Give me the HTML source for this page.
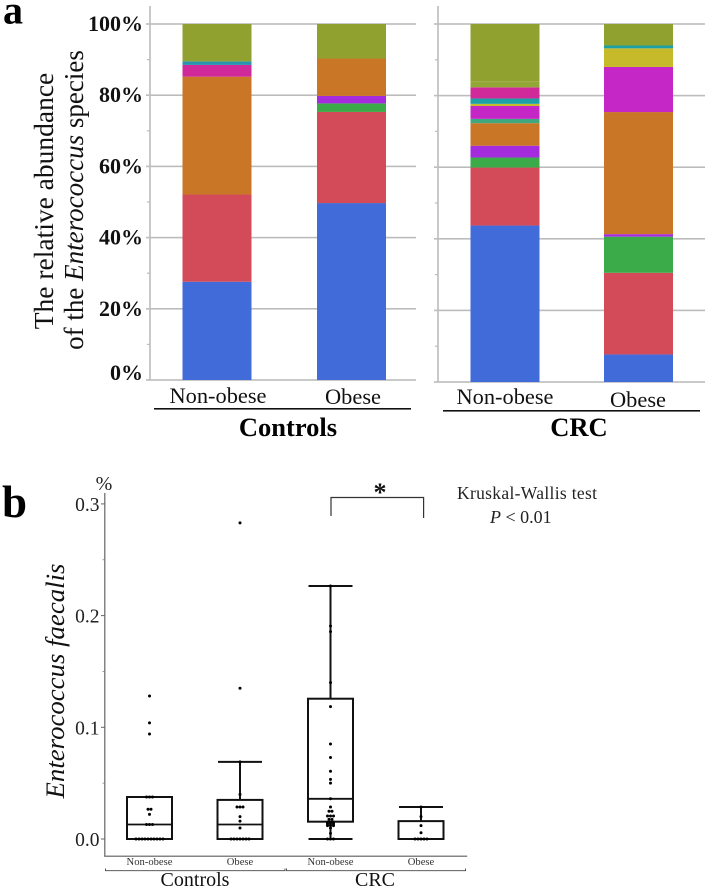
<!DOCTYPE html>
<html lang="en">
<head>
<meta charset="utf-8">
<title>Relative abundance of Enterococcus species</title>
<style>
html,body{margin:0;padding:0;background:#fff;}
svg{display:block;font-family:"Liberation Serif",serif;}
</style>
</head>
<body>
<svg id="figure" xmlns="http://www.w3.org/2000/svg" width="709" height="890" viewBox="0 0 709 890">
  <rect width="709" height="890" fill="#fff"/>
  <g id="panelA"></g>
  <g id="panelB"></g>

  <text x="3" y="23.500" font-size="40" font-weight="bold" fill="#000">a</text>
  <text x="2" y="517" font-size="45" font-weight="bold" fill="#000">b</text>

  <text transform="translate(53,201) rotate(-90)" text-anchor="middle" font-size="27.5" fill="#111">The relative abundance</text>
  <text transform="translate(83,200) rotate(-90)" text-anchor="middle" font-size="27" fill="#111">of the <tspan font-style="italic">Enterococcus</tspan> species</text>

  <text x="218" y="403" text-anchor="middle" font-size="22.4" fill="#111">Non-obese</text>
  <text x="353" y="404" text-anchor="middle" font-size="22.4" fill="#111">Obese</text>
  <text x="505" y="404" text-anchor="middle" font-size="22.4" fill="#111">Non-obese</text>
  <text x="638" y="407" text-anchor="middle" font-size="22.4" fill="#111">Obese</text>
  <rect x="154" y="408" width="257" height="1.6" fill="#111"/>
  <rect x="443" y="410" width="257" height="1.6" fill="#111"/>
  <text x="288" y="436" text-anchor="middle" font-size="26.5" font-weight="bold" fill="#000">Controls</text>
  <text x="579" y="436" text-anchor="middle" font-size="26.5" font-weight="bold" fill="#000">CRC</text>

  <text transform="translate(64,681) rotate(-90)" text-anchor="middle" font-size="26.8" font-style="italic" fill="#111">Enterococcus faecalis</text>
  <text x="104" y="490" text-anchor="middle" font-size="20" fill="#222">%</text>
  <path d="M331 516V497.500H423.600V518" fill="none" stroke="#333" stroke-width="1.2"/>
  <text x="380" y="501" text-anchor="middle" font-size="26" font-weight="bold" fill="#111">*</text>
  <text x="457" y="499" font-size="17.5" fill="#222" textLength="140">Kruskal-Wallis test</text>
  <text x="490" y="523" font-size="18" fill="#222"><tspan font-style="italic">P</tspan> &lt; 0.01</text>

  <text x="149.5" y="865" text-anchor="middle" font-size="10.6" fill="#333">Non-obese</text>
  <text x="240" y="865" text-anchor="middle" font-size="10.6" fill="#333">Obese</text>
  <text x="330.5" y="865" text-anchor="middle" font-size="10.6" fill="#333">Non-obese</text>
  <text x="421" y="865" text-anchor="middle" font-size="10.6" fill="#333">Obese</text>
  <path d="M105.500 868.500V870.700H285V868.500" fill="none" stroke="#444" stroke-width="0.9"/>
  <path d="M286.500 868.500V870.700H465.500V868.500" fill="none" stroke="#444" stroke-width="0.9"/>
  <text x="195" y="886" text-anchor="middle" font-size="20" fill="#111">Controls</text>
  <text x="375" y="886" text-anchor="middle" font-size="20" fill="#111">CRC</text>
</svg>

<script>
// ---- Panel a: stacked bars (percent), one entry per bar:
// Controls non-obese, Controls obese, CRC non-obese, CRC obese
const speciesNames = ['blue', 'red', 'green', 'purple', 'orange', 'sea-green', 'magenta', 'yellow', 'teal', 'pink', 'blue-teal', 'light-olive', 'olive'];
const speciesColors = ['#416bd8', '#d34a59', '#3aab48', '#a42bde', '#c97626', '#3fa87f', '#c427c6', '#c6ba2b', '#1d9fa6', '#d02a9a', '#2a93ad', '#93a737', '#90a12f'];
const blueValues = [27.6, 49.7, 43.7, 7.7];
const redValues = [24.5, 25.6, 16.2, 22.8];
const greenValues = [0, 2.4, 2.8, 10.1];
const purpleValues = [0, 2.1, 3.3, 0.7];
const orangeValues = [33.1, 10.5, 6.3, 34.1];
const seaGreenValues = [0, 0, 1.2, 0];
const magentaValues = [0, 0, 3.6, 12.6];
const yellowValues = [0, 0, 0.6, 5.2];
const tealValues = [0, 0, 1.5, 0.8];
const pinkValues = [3.3, 0, 3.1, 0];
const blueTealValues = [1, 0, 0, 0];
const lightOliveValues = [0, 0, 1.7, 0];
const oliveValues = [10.5, 9.7, 16, 6];
const barNames = ['controls-non-obese', 'controls-obese', 'crc-non-obese', 'crc-obese'];
const percentTicks = [0, 20, 40, 60, 80, 100];
const percentMinorTicks = [10, 30, 50, 70, 90];

// ---- Panel b: box plots (percent abundance)
const boxNames = ['controls-non-obese', 'controls-obese', 'crc-non-obese', 'crc-obese'];
const boxQ1 = [0, 0, 0.0155, 0];
const boxMedian = [0.013, 0.013, 0.036, 0];
const boxQ3 = [0.0376, 0.035, 0.1256, 0.016];
const whiskerLow = [0, 0, 0, 0];
const whiskerHigh = [0.0376, 0.069, 0.2265, 0.0286];
const dotsControlsNonObese = [0,0,0,0,0,0,0,0,0,0, 0.013,0.013,0.013, 0.022, 0.0266,0.0266, 0.0376,0.0376,0.0376, 0.094, 0.104, 0.128];
const dotsControlsObese = [0,0,0,0,0,0,0, 0.0098, 0.016, 0.02, 0.0286,0.0286,0.0286, 0.04, 0.069, 0.135, 0.283];
const dotsCrcNonObese = [0,0,0, 0.005, 0.0098, 0.012,0.012,0.012, 0.0135,0.0135,0.0135, 0.015,0.015,0.015, 0.0176,0.0176, 0.0206,0.0206,0.0206, 0.0248,0.0248, 0.0286, 0.036, 0.05, 0.0534, 0.0606, 0.073, 0.085, 0.1185, 0.14, 0.1856, 0.1907, 0.2265];
const dotsCrcObese = [0,0,0,0,0, 0.0056, 0.012, 0.02, 0.0286];
const boxTicks = ['0.0', '0.1', '0.2', '0.3'];
const boxMinorTicks = [0.05, 0.15, 0.25];

const SVG_NS = 'http://www.w3.org/2000/svg';
function make(parent, tag, attrs) {
  const el = document.createElementNS(SVG_NS, tag);
  for (const k in attrs) el.setAttribute(k, attrs[k]);
  parent.appendChild(el);
  return el;
}

// ---- Panel a drawing
const panelA = document.getElementById('panelA');
const allSpecies = [blueValues, redValues, greenValues, purpleValues, orangeValues, seaGreenValues, magentaValues, yellowValues, tealValues, pinkValues, blueTealValues, lightOliveValues, oliveValues];
const GRID = '#bcbcbc';

function yLeft(v) { return 380 - 3.56 * v; }
function yRight(v) { return 382 - 3.58 * v; }
function barX(i) { return [182.5, 317, 470.5, 604][i]; }
const BAR_W = 69;

function drawStackAxis(yFn, axisX, gridEnd, panelName, withLabels) {
  percentTicks.forEach(function (t) {
    const line = make(panelA, 'rect', { x: axisX - 4, y: yFn(t) - 0.8, width: gridEnd - axisX + 4, height: 1.6, fill: GRID });
    
    
    if (withLabels) {
      const label = make(panelA, 'text', { x: 143, y: Math.min(yFn(t) + 7, 380), 'text-anchor': 'end', 'font-size': 22, 'font-weight': 'bold', fill: '#111' });
      
      
      label.textContent = t + '%';
    }
  });
  percentMinorTicks.forEach(function (t) {
    const tick = make(panelA, 'rect', { x: axisX - 3, y: yFn(t) - 0.6, width: 3, height: 1.2, fill: GRID });
    
    
  });
  const axis = make(panelA, 'rect', { x: axisX - 0.8, y: 6, width: 1.6, height: yFn(0) - 6, fill: GRID });
  
  
}
drawStackAxis(yLeft, 150, 416, 'controls', true);
drawStackAxis(yRight, 438, 705, 'crc', false);

barNames.forEach(function (name, b) {
  const yFn = b < 2 ? yLeft : yRight;
  let cum = 0;
  allSpecies.forEach(function (series, s) {
    const v = series[b];
    if (!v) return;
    const top = yFn(cum + v);
    const bottom = yFn(cum);
    const seg = make(panelA, 'rect', { x: barX(b), y: top, width: BAR_W, height: bottom - top, fill: speciesColors[s] });
    
    
    cum += v;
  });
});

// ---- Panel b drawing
const panelB = document.getElementById('panelB');
const INK = '#111';
function yBox(v) { return 839 - 1117 * v; }
function xBox(i) { return 149.5 + 90.5 * i; }
const BOX_HALF = 22.5;

const yAxisB = make(panelB, 'rect', { x: 104.2, y: 493, width: 1.2, height: 363.5, fill: '#666' });


const xAxisB = make(panelB, 'rect', { x: 104.2, y: 855.6, width: 363, height: 1.2, fill: '#666' });



boxTicks.forEach(function (t) {
  const v = parseFloat(t);
  const tick = make(panelB, 'rect', { x: 101, y: yBox(v) - 0.5, width: 3.5, height: 1, fill: '#666' });
  
  
  const label = make(panelB, 'text', { x: 99.5, y: yBox(v) + 7, 'text-anchor': 'end', 'font-size': 19.5, fill: '#222' });
  
  
  label.textContent = t;
});
boxMinorTicks.forEach(function (v) {
  const tick = make(panelB, 'rect', { x: 102.5, y: yBox(v) - 0.4, width: 2, height: 0.8, fill: '#888' });
  
  
});

const allDots = [dotsControlsNonObese, dotsControlsObese, dotsCrcNonObese, dotsCrcObese];
boxNames.forEach(function (name, i) {
  const cx = xBox(i);
  const hi = yBox(whiskerHigh[i]);
  const lo = yBox(whiskerLow[i]);

  const stemUp = make(panelB, 'line', { x1: cx, x2: cx, y1: yBox(boxQ3[i]), y2: hi, stroke: INK, 'stroke-width': 2 });
  
  
  const stemDown = make(panelB, 'line', { x1: cx, x2: cx, y1: yBox(boxQ1[i]), y2: lo, stroke: INK, 'stroke-width': 2 });
  
  

  if (whiskerHigh[i] > boxQ3[i]) {
    const capHi = make(panelB, 'line', { x1: cx - 22, x2: cx + 22, y1: hi, y2: hi, stroke: INK, 'stroke-width': 2 });
    
    
  }
  if (whiskerLow[i] < boxQ1[i]) {
    const capLo = make(panelB, 'line', { x1: cx - 22, x2: cx + 22, y1: lo, y2: lo, stroke: INK, 'stroke-width': 2 });
    
    
  }

  const q3y = yBox(boxQ3[i]);
  const q1y = yBox(boxQ1[i]);
  const box = make(panelB, 'rect', { x: cx - BOX_HALF, y: q3y, width: BOX_HALF * 2, height: q1y - q3y, fill: 'none', stroke: INK, 'stroke-width': 2 });
  
  

  const my = yBox(boxMedian[i]);
  const median = make(panelB, 'line', { x1: cx - BOX_HALF, x2: cx + BOX_HALF, y1: my, y2: my, stroke: INK, 'stroke-width': 1.8 });
  
  

  // dots at equal values are spread sideways around the box centre
  const counts = {};
  allDots[i].forEach(function (v) { counts[v] = (counts[v] || 0) + 1; });
  const seen = {};
  allDots[i].forEach(function (v) {
    seen[v] = (seen[v] || 0) + 1;
    const offset = (seen[v] - (counts[v] + 1) / 2) * 3;
    const dot = make(panelB, 'circle', { cx: cx + offset, cy: yBox(v), r: 1.5, fill: '#000' });
    
    
  });
});
</script>
</body>
</html>
